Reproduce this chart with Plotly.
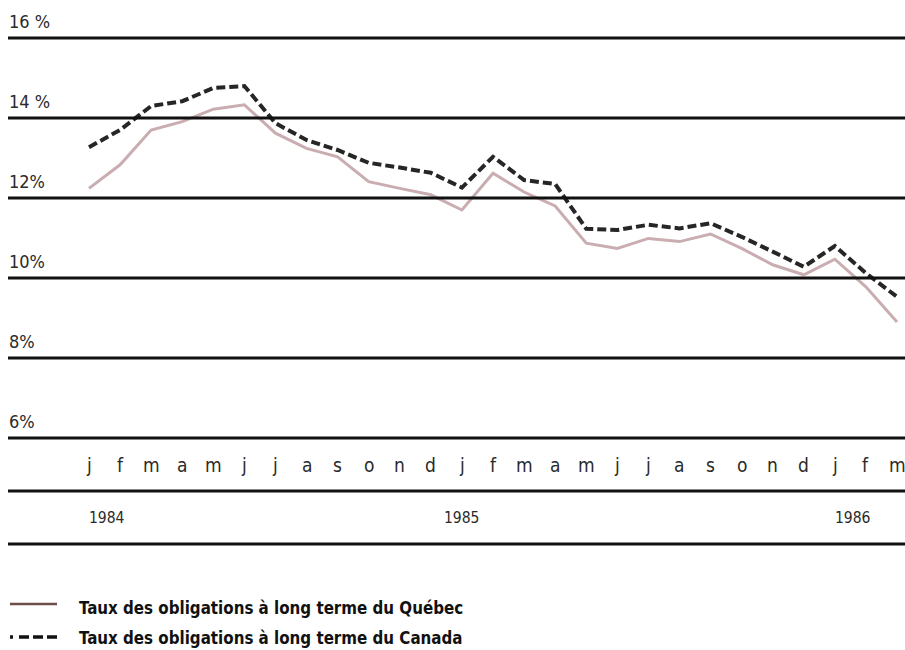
import plotly.graph_objects as go

# monthly long-term bond yields, Jan 1984 - Mar 1986 (%)
month_labels = ["j", "f", "m", "a", "m", "j", "j", "a", "s", "o", "n", "d",
                "j", "f", "m", "a", "m", "j", "j", "a", "s", "o", "n", "d",
                "j", "f", "m"]
quebec = [12.24, 12.83, 13.70, 13.91, 14.22, 14.33, 13.62, 13.24, 13.03, 12.41, 12.24, 12.08,
          11.70, 12.62, 12.15, 11.80, 10.87, 10.74, 10.99, 10.91, 11.10, 10.74, 10.33, 10.08,
          10.47, 9.78, 8.90]
canada = [13.27, 13.70, 14.30, 14.42, 14.75, 14.80, 13.87, 13.45, 13.20, 12.88, 12.76, 12.63,
          12.26, 13.03, 12.45, 12.35, 11.23, 11.20, 11.33, 11.24, 11.37, 11.03, 10.66, 10.28,
          10.80, 10.12, 9.53]
year_labels = ["1984", "1985", "1986"]
year_pos = [0, 12, 24]
y_ticks = [16, 14, 12, 10, 8, 6]
y_tick_labels = ["16 %", "14 %", "12%", "10%", "8%", "6%"]

legend_labels = ["Taux des obligations à long terme du Québec",
                 "Taux des obligations à long terme du Canada"]

months = list(range(len(month_labels)))

W, H = 905, 650
FONT = "Liberation Sans Narrow, DejaVu Sans Condensed, Liberation Sans, Arial, sans-serif"

fig = go.Figure()
fig.add_trace(go.Scatter(x=months, y=quebec, mode="lines",
                         line=dict(color="#c9adb0", width=3), name=legend_labels[0]))
fig.add_trace(go.Scatter(x=months, y=canada, mode="lines",
                         line=dict(color="#262626", width=4, dash="9px,4px"),
                         name=legend_labels[1]))

# horizontal rules
for v in y_ticks:
    fig.add_shape(type="line", xref="paper", yref="y", x0=8 / W, x1=1, y0=v, y1=v,
                  line=dict(color="#111111", width=3))
for py in [491, 544]:
    fig.add_shape(type="line", xref="paper", yref="paper", x0=8 / W, x1=1,
                  y0=1 - py / H, y1=1 - py / H, line=dict(color="#111111", width=3))

ann = []
for v, t in zip(y_ticks, y_tick_labels):
    ann.append(dict(x=7 / W, xref="paper", y=v, yref="y", text=t, showarrow=False,
                    xanchor="left", yanchor="bottom", yshift=4,
                    font=dict(family=FONT, size=18, color="#2a2a2a")))
for m, t in zip(months, month_labels):
    ann.append(dict(x=m, xref="x", y=1 - 465 / H, yref="paper", text=t, showarrow=False,
                    xanchor="center", yanchor="middle",
                    font=dict(family=FONT, size=19, color="#2a2a2a")))
for p, t in zip(year_pos, year_labels):
    anchor = "center" if p == 12 else "left"
    ann.append(dict(x=p, xref="x", y=1 - 518 / H, yref="paper", text=t, showarrow=False,
                    xanchor=anchor, yanchor="middle", xshift=-2 if anchor == "left" else 0,
                    font=dict(family=FONT, size=15.5, color="#2a2a2a")))

# legend
fig.add_shape(type="line", xref="paper", yref="paper", x0=10 / W, x1=57 / W,
              y0=1 - 604 / H, y1=1 - 604 / H, line=dict(color="#6e4e4b", width=2.5))
fig.add_shape(type="line", xref="paper", yref="paper", x0=10 / W, x1=58 / W,
              y0=1 - 637 / H, y1=1 - 637 / H,
              line=dict(color="#111111", width=3.5, dash="3px,6px,10px,4px,10px,4px,10px,40px"))
for py, t in zip([608, 638], legend_labels):
    ann.append(dict(x=77 / W, xref="paper", y=1 - py / H, yref="paper", text="<b>" + t + "</b>",
                    showarrow=False, xanchor="left", yanchor="middle",
                    font=dict(family=FONT, size=16.8, color="#111")))

px_per_month = (897 - 89) / 26
fig.update_layout(
    width=W, height=H,
    margin=dict(l=0, r=0, t=0, b=0),
    paper_bgcolor="white", plot_bgcolor="white",
    showlegend=False,
    annotations=ann,
    xaxis=dict(range=[-89 / px_per_month, (W - 89) / px_per_month], visible=False),
    yaxis=dict(range=[16 - (H - 38) / 40, 16 + 38 / 40], visible=False),
)

fig.write_html("out.html", config={"displayModeBar": False},
               post_script="document.body.style.margin='0';")
